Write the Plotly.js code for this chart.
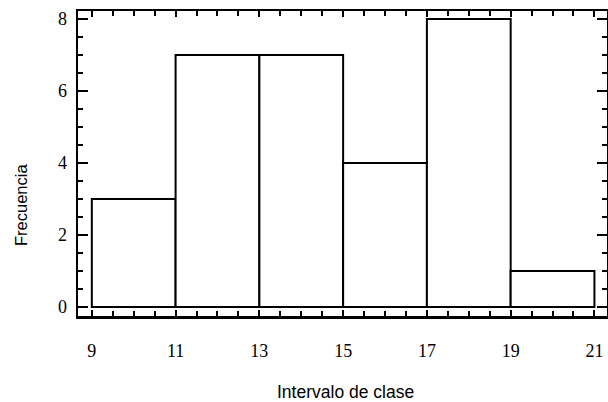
<!DOCTYPE html>
<html>
<head>
<meta charset="utf-8">
<script src="https://cdn.plot.ly/plotly-3.0.1.min.js"></script>
<style>body{margin:0;padding:0;background:#fff}</style>
</head>
<body>
<div id="chart" style="width:608px;height:402px"></div>
<script>
const binStarts = [9, 11, 13, 15, 17, 19];
const binWidth = 2;
const frequencies = [3, 7, 7, 4, 8, 1];
const xTickVals = [9, 11, 13, 15, 17, 19, 21];
const yTickVals = [0, 2, 4, 6, 8];
const xTitle = 'Intervalo de clase';
const yTitle = 'Frecuencia';

const centers = binStarts.map(s => s + binWidth / 2);

const trace = {
  type: 'bar',
  x: centers,
  y: frequencies,
  width: binStarts.map(() => binWidth),
  marker: { color: '#ffffff', line: { color: '#000000', width: 2 } },
  hoverinfo: 'skip'
};

const W = 608, H = 402;
const sans = 'Liberation Sans, Arial, sans-serif';
const serif = 'Liberation Serif, Times New Roman, serif';

const layout = {
  width: W, height: H,
  margin: { l: 78, r: 1, t: 11, b: 86 },
  paper_bgcolor: '#fff', plot_bgcolor: '#fff',
  showlegend: false,
  bargap: 0,
  xaxis: {
    range: [8.67, 21.3],
    tickvals: xTickVals,
    ticktext: xTickVals.map(String),
    ticks: 'inside', ticklen: 6, tickwidth: 2, tickcolor: '#000',
    minor: { ticks: 'inside', dtick: 0.5, tick0: 9, ticklen: 5, tickwidth: 2, tickcolor: '#000' },
    showline: true, linecolor: '#000', linewidth: 2.5, mirror: 'allticks',
    showgrid: false, zeroline: false,
    tickfont: { family: serif, size: 18, color: '#000' },
    ticklabelstandoff: 17,
    automargin: false
  },
  yaxis: {
    range: [-0.25, 8.22],
    tickvals: yTickVals,
    ticktext: yTickVals.map(String),
    ticks: 'inside', ticklen: 10, tickwidth: 2, tickcolor: '#000',
    minor: { ticks: 'inside', dtick: 0.5, tick0: 0, ticklen: 5, tickwidth: 2, tickcolor: '#000' },
    showline: true, linecolor: '#000', linewidth: 2.5, mirror: 'allticks',
    showgrid: false, zeroline: false,
    tickfont: { family: serif, size: 18, color: '#000' },
    ticklabelstandoff: 5,
    automargin: false
  },
  annotations: [
    { text: xTitle, xref: 'paper', yref: 'paper', x: (345 - 78) / (W - 79), y: -(392 - 316) / (H - 97),
      xanchor: 'center', yanchor: 'middle', showarrow: false,
      font: { family: sans, size: 17.5, color: '#000' } },
    { text: yTitle, xref: 'paper', yref: 'paper', x: -(78 - 21) / (W - 79), y: (316 - 205) / (H - 97),
      xanchor: 'center', yanchor: 'middle', showarrow: false, textangle: -90,
      font: { family: sans, size: 16.5, color: '#000' } }
  ]
};

Plotly.newPlot('chart', [trace], layout, { displayModeBar: false, staticPlot: true });
</script>
</body>
</html>
